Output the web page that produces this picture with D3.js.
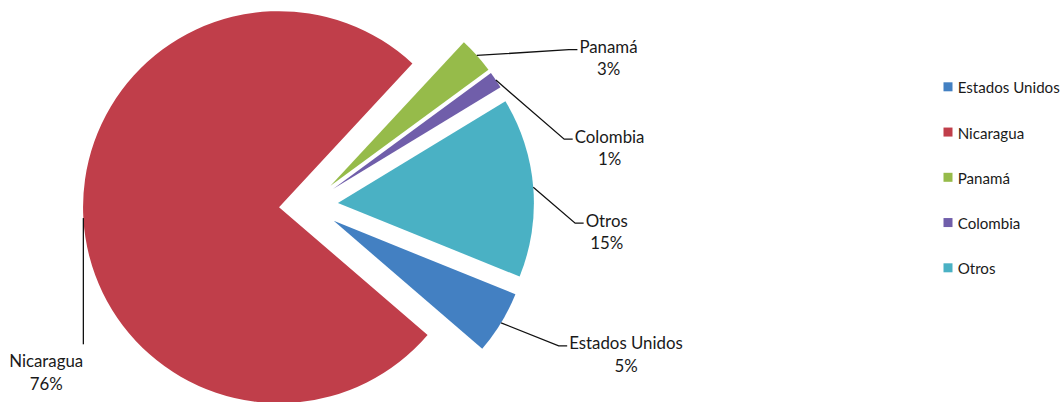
<!DOCTYPE html>
<html>
<head>
<meta charset="utf-8">
<script src="https://cdn.jsdelivr.net/npm/d3@7"></script>
<style>
  html, body { margin: 0; padding: 0; background: #fff; }
  svg { display: block; }
  text { font-family: Lato, "Open Sans", sans-serif; fill: #1a1a1a; }
</style>
</head>
<body>
<svg id="chart" width="1064" height="402"></svg>
<script>
// ---- data ----
const categories = ["Estados Unidos", "Nicaragua", "Panamá", "Colombia", "Otros"];
const shares = [5.2, 75.6, 3.0, 1.4, 14.8];
const percentLabels = ["5%", "76%", "3%", "1%", "15%"];

// ---- styles / layout ----
const colors = ["#4380C2", "#C03E4A", "#96BB4A", "#705EAA", "#4AB1C4"];
const W = 1064, H = 402;
const center = { x: 308.5, y: 205.5 };
const radius = 196;
const explode = 29.5;
const firstSliceDeg = 112;

// label anchor: cx = text centre, y = first baseline, side = where leader line meets
const labelLayout = {
  "Estados Unidos": { cx: 626, y: 349.3, side: "left" },
  "Nicaragua":      { cx: 46.2, y: 367.3, side: "top" },
  "Panamá":         { cx: 608.5, y: 53.2, side: "left" },
  "Colombia":       { cx: 609.6, y: 142.7, side: "left" },
  "Otros":          { cx: 606.7, y: 226.7, side: "left" }
};
const lineGap = 22.2;

const svg = d3.select("#chart");

// fit font sizes to the reference text widths
function fitSize(strings, targetWidth) {
  const t = svg.append("text").attr("font-size", 100);
  let w = 0;
  strings.forEach(s => { t.text(s); w += t.node().getComputedTextLength(); });
  t.remove();
  return 100 * targetWidth / w;
}
const labelFont = fitSize(["Estados Unidos", "Nicaragua"], 187.7);
const legendFont = fitSize(["Estados Unidos", "Nicaragua"], 168.6);

const pie = d3.pie()
  .sort(null)
  .value(d => d)
  .startAngle(firstSliceDeg * Math.PI / 180)
  .endAngle(firstSliceDeg * Math.PI / 180 + 2 * Math.PI);

const arcs = pie(shares);
const arc = d3.arc().innerRadius(0).outerRadius(radius);

const g = svg.append("g").attr("transform", `translate(${center.x},${center.y})`);

arcs.forEach((a, i) => {
  const mid = (a.startAngle + a.endAngle) / 2;
  a.dx = Math.sin(mid) * explode;
  a.dy = -Math.cos(mid) * explode;
  a.mid = mid;
});

g.selectAll("path.slice")
  .data(arcs)
  .join("path")
  .attr("class", "slice")
  .attr("d", arc)
  .attr("fill", (d, i) => colors[i])
  .attr("transform", d => `translate(${d.dx},${d.dy})`);

// labels + leader lines
const labelsG = svg.append("g");
arcs.forEach((a, i) => {
  const name = categories[i];
  const L = labelLayout[name];
  const t = labelsG.append("text")
    .attr("text-anchor", "middle")
    .attr("font-size", labelFont);
  t.append("tspan").attr("x", L.cx).attr("y", L.y).text(name);
  t.append("tspan").attr("x", L.cx).attr("y", L.y + lineGap).text(percentLabels[i]);

  const sx = center.x + a.dx + Math.sin(a.mid) * radius;
  const sy = center.y + a.dy - Math.cos(a.mid) * radius;
  let pts;
  if (L.side === "left") {
    const tw = t.select("tspan").node().getComputedTextLength();
    const ex = L.cx - tw / 2 - 2;
    const ey = L.y - 3.5;
    pts = [[sx, sy], [ex - 8.5, ey], [ex, ey]];
  } else {
    const ey = L.y - 23;
    pts = [[sx, sy], [sx, ey]];
  }
  labelsG.append("path")
    .attr("d", d3.line()(pts))
    .attr("fill", "none")
    .attr("stroke", "#111")
    .attr("stroke-width", 1.3);
});

// legend
const legend = svg.append("g").attr("transform", "translate(943.5,93.3)");
const legendItems = legend.selectAll("g")
  .data(categories)
  .join("g")
  .attr("transform", (d, i) => `translate(0,${i * 45.25})`);
legendItems.append("rect")
  .attr("x", 0).attr("y", -11).attr("width", 9).attr("height", 9)
  .attr("fill", (d, i) => colors[i]);
legendItems.append("text")
  .attr("x", 14.2).attr("y", 0)
  .attr("font-size", legendFont)
  .text(d => d);
</script>
</body>
</html>
